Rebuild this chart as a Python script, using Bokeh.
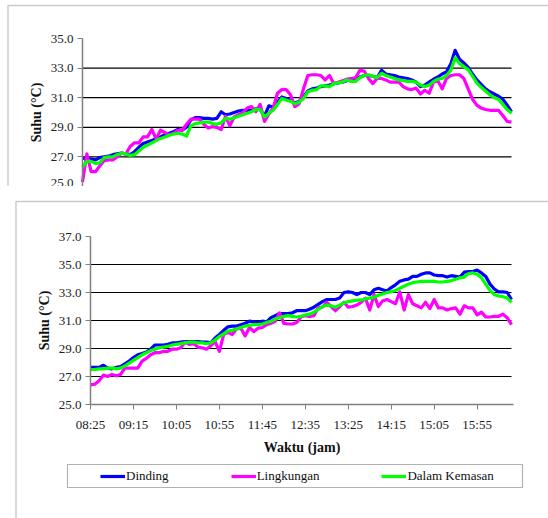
from bokeh.plotting import figure
from bokeh.layouts import column
from bokeh.models import FixedTicker, BoxAnnotation, Legend, LegendItem, Range1d, NumeralTickFormatter
from bokeh.embed import file_html
from bokeh.resources import INLINE

# ---------------- data ----------------
series_names = ["Dinding", "Lingkungan", "Dalam Kemasan"]
series_colors = ["#0000FF", "#FF00FF", "#00FF00"]

tick_labels = ["08:25", "09:15", "10:05", "10:55", "11:45", "12:35", "13:25", "14:15", "15:05", "15:55"]

# upper chart (cropped in the reference)
top_dinding = [26.9, 26.9, 26.85, 26.8, 26.95, 27.0, 27.05, 27.15, 27.2, 27.25,
               27.2, 27.15, 27.35, 27.65, 27.9, 28.0, 28.1, 28.25, 28.35, 28.5,
               28.6, 28.7, 28.85, 28.8, 29.0, 29.5, 29.65, 29.65, 29.6, 29.6,
               29.55, 29.6, 30.05, 29.85, 29.9, 30.0, 30.1, 30.15, 30.15, 30.15,
               30.25, 30.2, 29.75, 30.45, 30.35, 30.7, 31.05, 30.95, 30.8, 30.65,
               30.75, 31.05, 31.45, 31.6, 31.65, 31.75, 31.8, 31.85, 31.95, 32.0,
               32.05, 32.15, 32.2, 32.25, 32.4, 32.5, 32.5, 32.45, 32.35, 32.85,
               32.6, 32.55, 32.5, 32.4, 32.35, 32.3, 32.2, 32.05, 31.75, 31.85,
               32.05, 32.25, 32.4, 32.6, 32.75, 33.3, 34.2, 33.6, 33.35, 33.05,
               32.6, 32.2, 31.9, 31.6, 31.4, 31.25, 31.1, 30.9, 30.5, 30.05]
top_lingkungan = [25.3, 27.2, 26.0, 26.0, 26.4, 26.75, 26.8, 26.8, 27.0, 27.25,
                  27.2, 27.7, 27.95, 27.95, 28.35, 28.35, 28.85, 28.2, 28.8, 28.65,
                  28.5, 28.6, 28.8, 28.8, 29.2, 29.55, 29.55, 29.55, 29.2, 28.95,
                  29.05, 29.0, 28.85, 29.75, 29.1, 29.7, 29.85, 30.0, 30.3, 30.4,
                  30.05, 30.55, 29.4, 29.9, 30.3, 31.3, 31.55, 31.55, 31.2, 30.4,
                  30.6, 31.6, 32.5, 32.55, 32.55, 32.5, 32.2, 32.5, 31.95, 32.05,
                  32.15, 32.25, 32.3, 32.35, 32.85, 32.8, 32.3, 31.95, 32.3, 32.3,
                  32.2, 32.05, 32.05, 32.05, 31.75, 31.6, 31.55, 31.65, 31.25, 31.5,
                  31.3, 32.05, 32.15, 31.6, 32.3, 32.5, 32.55, 32.55, 32.3, 31.6,
                  30.9, 30.5, 30.3, 30.2, 30.15, 30.15, 30.15, 29.8, 29.4, 29.35]
top_kemasan = [26.3, 26.7, 26.7, 26.55, 26.6, 26.95, 27.0, 27.0, 27.15, 27.25,
               27.2, 27.1, 27.15, 27.4, 27.65, 27.8, 27.95, 28.1, 28.25, 28.35,
               28.45, 28.55, 28.6, 28.55, 28.4, 29.1, 29.25, 29.3, 29.35, 29.35,
               29.25, 29.2, 29.3, 29.6, 29.55, 29.65, 29.75, 29.85, 29.95, 30.05,
               30.2, 30.2, 29.7, 29.95, 30.15, 30.55, 30.95, 30.85, 30.75, 30.6,
               30.7, 30.95, 31.4, 31.5, 31.55, 31.8, 31.8, 31.75, 31.95, 32.0,
               32.05, 32.2, 32.1, 32.1, 32.35, 32.5, 32.55, 32.45, 32.35, 32.65,
               32.5, 32.4, 32.3, 32.2, 32.15, 32.1, 32.1, 32.05, 31.85, 31.75,
               31.85, 32.1, 32.25, 32.3, 32.5, 32.85, 33.7, 33.3, 33.1, 32.9,
               32.45, 32.0, 31.7, 31.45, 31.2, 31.0, 30.9, 30.55, 30.2, 29.95]

# lower chart
bot_dinding = [27.65, 27.65, 27.65, 27.8, 27.6, 27.55, 27.65, 27.7, 27.9, 28.1,
               28.35, 28.55, 28.65, 28.75, 28.95, 29.25, 29.25, 29.25, 29.3, 29.4,
               29.4, 29.45, 29.5, 29.5, 29.5, 29.5, 29.45, 29.45, 29.4, 29.75,
               30.0, 30.3, 30.55, 30.6, 30.6, 30.7, 30.8, 30.95, 30.9, 30.85,
               30.95, 30.9, 31.2, 31.35, 31.5, 31.5, 31.5, 31.55, 31.7, 31.7,
               31.7, 31.8, 31.95, 32.15, 32.35, 32.5, 32.5, 32.5, 32.6, 33.0,
               33.05, 33.0, 32.85, 33.0, 33.0, 32.85, 33.2, 33.3, 33.2, 33.1,
               33.35, 33.55, 33.8, 33.9, 33.95, 34.15, 34.15, 34.3, 34.4, 34.4,
               34.25, 34.2, 34.2, 34.1, 34.2, 34.15, 34.1, 34.45, 34.5, 34.5,
               34.6, 34.4, 34.15, 33.6, 33.25, 33.05, 33.05, 33.0, 32.5]
bot_lingkungan = [26.4, 26.45, 26.7, 27.1, 27.0, 27.15, 27.05, 27.15, 27.6, 27.6,
                  27.6, 27.6, 28.1, 28.3, 28.55, 28.7, 28.7, 28.8, 28.8, 28.95,
                  28.95, 29.05, 29.45, 29.3, 29.35, 29.1, 29.05, 28.95, 29.2, 29.5,
                  28.8, 30.0, 30.15, 30.0, 30.4, 30.45, 29.9, 30.5, 30.2, 30.45,
                  30.5, 30.7, 30.8, 30.95, 31.55, 30.8, 30.75, 30.75, 30.85, 31.25,
                  31.35, 31.3, 31.35, 31.9, 31.95, 32.3, 32.0, 31.7, 32.0, 32.3,
                  31.95, 32.0, 32.1, 32.3, 32.6, 31.75, 32.85, 32.0, 32.4, 32.5,
                  32.35, 32.2, 33.05, 31.75, 32.85, 32.2, 32.05, 31.9, 32.3, 31.85,
                  32.5, 31.9, 31.9, 31.75, 31.85, 31.9, 31.45, 32.05, 31.9, 31.9,
                  31.4, 31.6, 31.25, 31.25, 31.3, 31.3, 31.45, 31.2, 30.7]
bot_kemasan = [27.5, 27.5, 27.55, 27.55, 27.6, 27.6, 27.55, 27.6, 27.75, 27.95,
               28.15, 28.35, 28.55, 28.7, 28.85, 28.95, 29.05, 29.1, 29.15, 29.25,
               29.3, 29.35, 29.4, 29.45, 29.45, 29.4, 29.4, 29.35, 29.4, 29.6,
               29.85, 30.05, 30.25, 30.3, 30.4, 30.5, 30.6, 30.65, 30.7, 30.7,
               30.75, 30.85, 30.95, 31.1, 31.2, 31.3, 31.35, 31.3, 31.25, 31.3,
               31.4, 31.45, 31.6, 31.8, 32.0, 32.1, 32.05, 31.95, 32.1, 32.25,
               32.35, 32.4, 32.45, 32.45, 32.55, 32.6, 32.65, 32.8, 32.9, 33.0,
               33.05, 33.15, 33.3, 33.45, 33.6, 33.7, 33.75, 33.8, 33.8, 33.8,
               33.8, 33.75, 33.75, 33.8, 33.85, 33.95, 34.05, 34.1, 34.35, 34.4,
               34.3, 34.05, 33.6, 33.15, 32.85, 32.75, 32.7, 32.6, 32.3]

top_y_ticks = [25, 27, 29, 31, 33, 35]
top_grid = [27, 29, 31, 33]
bot_y_ticks = [25, 27, 29, 31, 33, 35, 37]
bot_grid = [27, 29, 31, 33, 35]

SERIF = "Liberation Serif"
W = 548
LW = 3.2


def make_panel(height, x_lo, x_hi, y_lo, y_hi, px_left, px_right, px_top, px_bottom):
    """Frame covers the whole canvas; data area [x_lo,x_hi]x[y_lo,y_hi] maps to the given pixels."""
    ppx = (px_right - px_left) / (x_hi - x_lo)
    ppy = (px_bottom - px_top) / (y_hi - y_lo)
    xr = Range1d(x_lo - px_left / ppx, x_hi + (W - px_right) / ppx)
    yr = Range1d(y_lo - (height - px_bottom) / ppy, y_hi + px_top / ppy)
    p = figure(width=W, height=height, output_backend="svg", toolbar_location=None,
               x_range=xr, y_range=yr, min_border=0)
    p.min_border_left = p.min_border_right = p.min_border_top = p.min_border_bottom = 0
    p.outline_line_color = None
    p.xgrid.visible = False
    p.ygrid.visible = False
    return p


def style_y(p, ticks, x_at):
    ax = p.yaxis[0]
    ax.fixed_location = x_at
    ax.bounds = (ticks[0], ticks[-1])
    ax.ticker = FixedTicker(ticks=ticks)
    ax.formatter = NumeralTickFormatter(format="0.0")
    ax.major_label_text_font = SERIF
    ax.major_label_text_font_size = "13px"
    ax.major_label_text_color = "#222222"
    ax.axis_line_color = "#808080"
    ax.axis_line_width = 1.5
    ax.major_tick_line_color = "#808080"
    ax.major_tick_out = 5
    ax.major_tick_in = 0
    ax.minor_tick_line_color = None
    ax.major_label_standoff = 4
    ax.axis_label = "Suhu (°C)"
    ax.axis_label_text_font = SERIF
    ax.axis_label_text_font_style = "bold"
    ax.axis_label_text_font_size = "14px"
    ax.axis_label_text_color = "#111111"
    ax.axis_label_standoff = 4


def grid_lines(p, gy, x0, x1):
    p.segment(x0=[x0] * len(gy), x1=[x1] * len(gy), y0=gy, y1=gy,
              line_color="black", line_width=1.2)


# ---------------- upper (cropped) chart ----------------
top_h = 186
n_top = len(top_dinding)
pt = make_panel(top_h, 0, n_top - 1, 25, 35, 82, 511, 38, 186)
pt.xaxis.visible = False
style_y(pt, top_y_ticks, 0)
grid_lines(pt, top_grid, 0, n_top - 1)
xs_top = list(range(n_top))
for ys, c in zip([top_dinding, top_lingkungan, top_kemasan], series_colors):
    pt.line(xs_top, ys, line_color=c, line_width=LW, line_join="round")
pt.add_layout(BoxAnnotation(left=7.5, right=W + 50, top=5, bottom=top_h + 50,
                            left_units="canvas", right_units="canvas",
                            top_units="canvas", bottom_units="canvas",
                            fill_alpha=0, line_color="#555555", line_width=1.5))

# ---------------- lower chart ----------------
bot_h = 518 - top_h
n_bot = len(bot_dinding)
pb = make_panel(bot_h, 0, n_bot - 1, 25, 37, 90, 511, 236 - top_h, 404 - top_h)
style_y(pb, bot_y_ticks, 0)
grid_lines(pb, bot_grid, 0, n_bot - 1)

xa = pb.xaxis[0]
xa.fixed_location = 25
xa.bounds = (0, n_bot - 0.5)
xa.ticker = FixedTicker(ticks=[10 * k for k in range(len(tick_labels))])
xa.major_label_overrides = {10 * k: lab for k, lab in enumerate(tick_labels)}
xa.major_label_text_font = SERIF
xa.major_label_text_font_size = "13px"
xa.major_label_text_color = "#222222"
xa.axis_line_color = "#808080"
xa.axis_line_width = 1.5
xa.major_tick_line_color = "#808080"
xa.major_tick_out = 5
xa.major_tick_in = 0
xa.minor_tick_line_color = None
xa.major_label_standoff = 7
xa.axis_label = "Waktu (jam)"
xa.axis_label_text_font = SERIF
xa.axis_label_text_font_style = "bold"
xa.axis_label_text_font_size = "14px"
xa.axis_label_text_color = "#111111"
xa.axis_label_standoff = 5

xs_bot = list(range(n_bot))
renderers = []
for ys, c in zip([bot_dinding, bot_lingkungan, bot_kemasan], series_colors):
    renderers.append(pb.line(xs_bot, ys, line_color=c, line_width=LW, line_join="round"))

legend = Legend(items=[LegendItem(label=n, renderers=[r]) for n, r in zip(series_names, renderers)],
                orientation="horizontal", location=(100, 518 - 484),
                glyph_width=25, glyph_height=12, label_standoff=1, spacing=62,
                padding=0, margin=0, border_line_alpha=0, background_fill_alpha=0,
                label_text_font=SERIF, label_text_font_size="13px", label_text_color="#111111")
pb.add_layout(legend, "center")

pb.add_layout(BoxAnnotation(left=67, right=522, top=464 - top_h, bottom=487 - top_h,
                            left_units="canvas", right_units="canvas",
                            top_units="canvas", bottom_units="canvas",
                            fill_alpha=0, line_color="black", line_width=1.2))
pb.add_layout(BoxAnnotation(left=15.5, right=W + 50, top=201 - top_h, bottom=bot_h + 50,
                            left_units="canvas", right_units="canvas",
                            top_units="canvas", bottom_units="canvas",
                            fill_alpha=0, line_color="#555555", line_width=1.5))

layout = column(pt, pb, spacing=0)
open("out.html", "w").write(file_html(layout, INLINE))
